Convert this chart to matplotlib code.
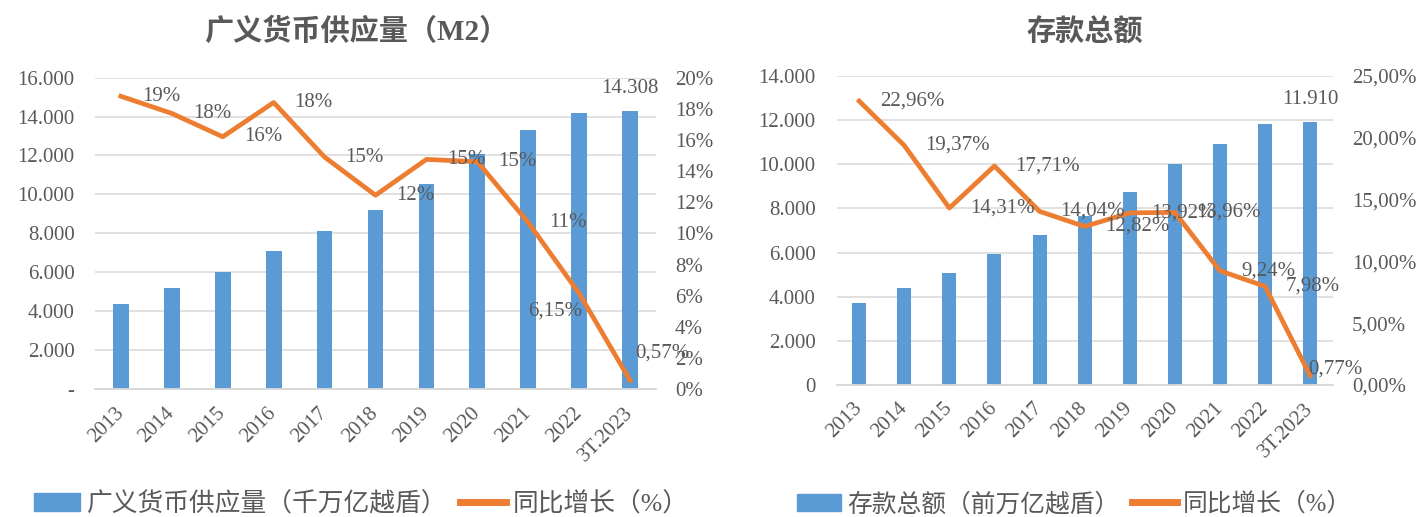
import matplotlib
matplotlib.use("Agg")
import matplotlib.pyplot as plt
from matplotlib.ticker import FuncFormatter
from matplotlib.patches import Patch
from matplotlib.lines import Line2D
import numpy as np

plt.rcParams["font.family"] = ["Liberation Serif", "Noto Sans CJK SC", "DejaVu Sans"]

# --- data ---
years = ["2013", "2014", "2015", "2016", "2017", "2018", "2019", "2020", "2021", "2022", "3T.2023"]

m2_supply = [4360, 5180, 6020, 7080, 8140, 9180, 10550, 12070, 13330, 14190, 14308]   # nghìn tỷ VND
m2_growth = [18.8, 17.7, 16.2, 18.4, 14.9, 12.45, 14.75, 14.6, 10.7, 6.15, 0.57]      # %
m2_growth_lbl = ["19%", "18%", "16%", "18%", "15%", "12%", "15%", "15%", "11%", "6,15%", "0,57%"]

deposits = [3700, 4380, 5060, 5935, 6800, 7660, 8730, 10000, 10930, 11810, 11910]
dep_growth = [22.96, 19.37, 14.31, 17.71, 14.04, 12.82, 13.92, 13.96, 9.24, 7.98, 0.77]
dep_growth_lbl = ["22,96%", "19,37%", "14,31%", "17,71%", "14,04%", "12,82%",
                  "13,92%", "13,96%", "9,24%", "7,98%", "0,77%"]

BLUE = "#5B9BD5"
ORANGE = "#ED7D31"
TXT = "#595959"
GRID = "#D9D9D9"
FS = 15


def thousands(v, _):
    return f"{v:,.0f}".replace(",", ".")


def draw(ax, vals, growth, glabels, ymax, ystep, pmax, pstep, zero_lbl, pct_fmt,
         lbl_offsets, last_lbl):
    x = np.arange(len(years))
    ax.bar(x, vals, width=0.31, color=BLUE, zorder=2)
    ax.set_xlim(-0.5, len(years) - 0.5)
    ax.set_ylim(0, ymax)
    ax.set_yticks(np.arange(0, ymax + 1, ystep))
    ax.yaxis.set_major_formatter(FuncFormatter(
        lambda v, p: zero_lbl if v == 0 else thousands(v, p)))
    ax.grid(axis="y", color=GRID, lw=1.1, zorder=0)
    ax.set_axisbelow(True)
    for s in ["top", "right", "left"]:
        ax.spines[s].set_visible(False)
    ax.spines["bottom"].set_color(GRID)
    ax.spines["bottom"].set_linewidth(1.3)
    ax.tick_params(axis="both", length=0, labelsize=FS, labelcolor=TXT)
    ax.tick_params(axis="y", pad=15)
    ax.tick_params(axis="x", pad=15)
    ax.set_xticks(x)
    ax.set_xticklabels(years, rotation=45, ha="right", va="center",
                       rotation_mode="anchor")
    ax.annotate(last_lbl, (x[-1], vals[-1]), xytext=(0, 22),
                textcoords="offset pixels", ha="center", va="center",
                fontsize=FS, color=TXT)

    tw = ax.twinx()
    tw.plot(x, growth, color=ORANGE, lw=3.4, zorder=3)
    tw.set_ylim(0, pmax)
    tw.set_yticks(np.arange(0, pmax + 0.001, pstep))
    tw.yaxis.set_major_formatter(FuncFormatter(lambda v, p: pct_fmt(v)))
    for s in tw.spines.values():
        s.set_visible(False)
    tw.tick_params(axis="y", length=0, labelsize=FS, labelcolor=TXT, pad=14)
    for i, (g, t) in enumerate(zip(growth, glabels)):
        dx, dy = lbl_offsets.get(i, (21, 0))
        tw.annotate(t, (x[i], g), xytext=(dx, -dy), textcoords="offset pixels",
                    ha="left", va="center", fontsize=FS, color=TXT, zorder=4)
    return tw


fig = plt.figure(figsize=(14.18, 5.17), dpi=100)
axL = fig.add_axes([0.0673, 0.247, 0.395, 0.603])
axR = fig.add_axes([0.590, 0.2553, 0.3498, 0.598])

draw(axL, m2_supply, m2_growth, m2_growth_lbl, 16000, 2000, 20, 2, "-",
     lambda v: f"{v:.0f}%", {9: (-51, 18), 10: (5, -27)}, "14.308")
draw(axR, deposits, dep_growth, dep_growth_lbl, 14000, 2000, 25, 5, "0",
     lambda v: f"{v:.2f}%".replace(".", ","), {10: (-2, -6)}, "11.910")

fig.text(0.251, 0.938, "广义货币供应量（M2）", ha="center", va="center",
         fontsize=21, fontweight="bold", color=TXT)
fig.text(0.765, 0.938, "存款总额", ha="center", va="center",
         fontsize=21, fontweight="bold", color=TXT)

# legends
leg_kw = dict(loc="center left", ncol=2, frameon=False,
              handlelength=1.8, handletextpad=0.25, columnspacing=0.5,
              borderpad=0, borderaxespad=0, labelcolor=TXT)
fig.legend([Patch(color=BLUE), Line2D([], [], color=ORANGE, lw=5)],
           ["广义货币供应量（千万亿越盾）", "同比增长（%）"],
           bbox_to_anchor=(0.024, 0.025), fontsize=18.5, **leg_kw)
fig.legend([Patch(color=BLUE), Line2D([], [], color=ORANGE, lw=5)],
           ["存款总额（前万亿越盾）", "同比增长（%）"],
           bbox_to_anchor=(0.562, 0.025), fontsize=17.8, **leg_kw)

fig.savefig("out.png", dpi=100)
